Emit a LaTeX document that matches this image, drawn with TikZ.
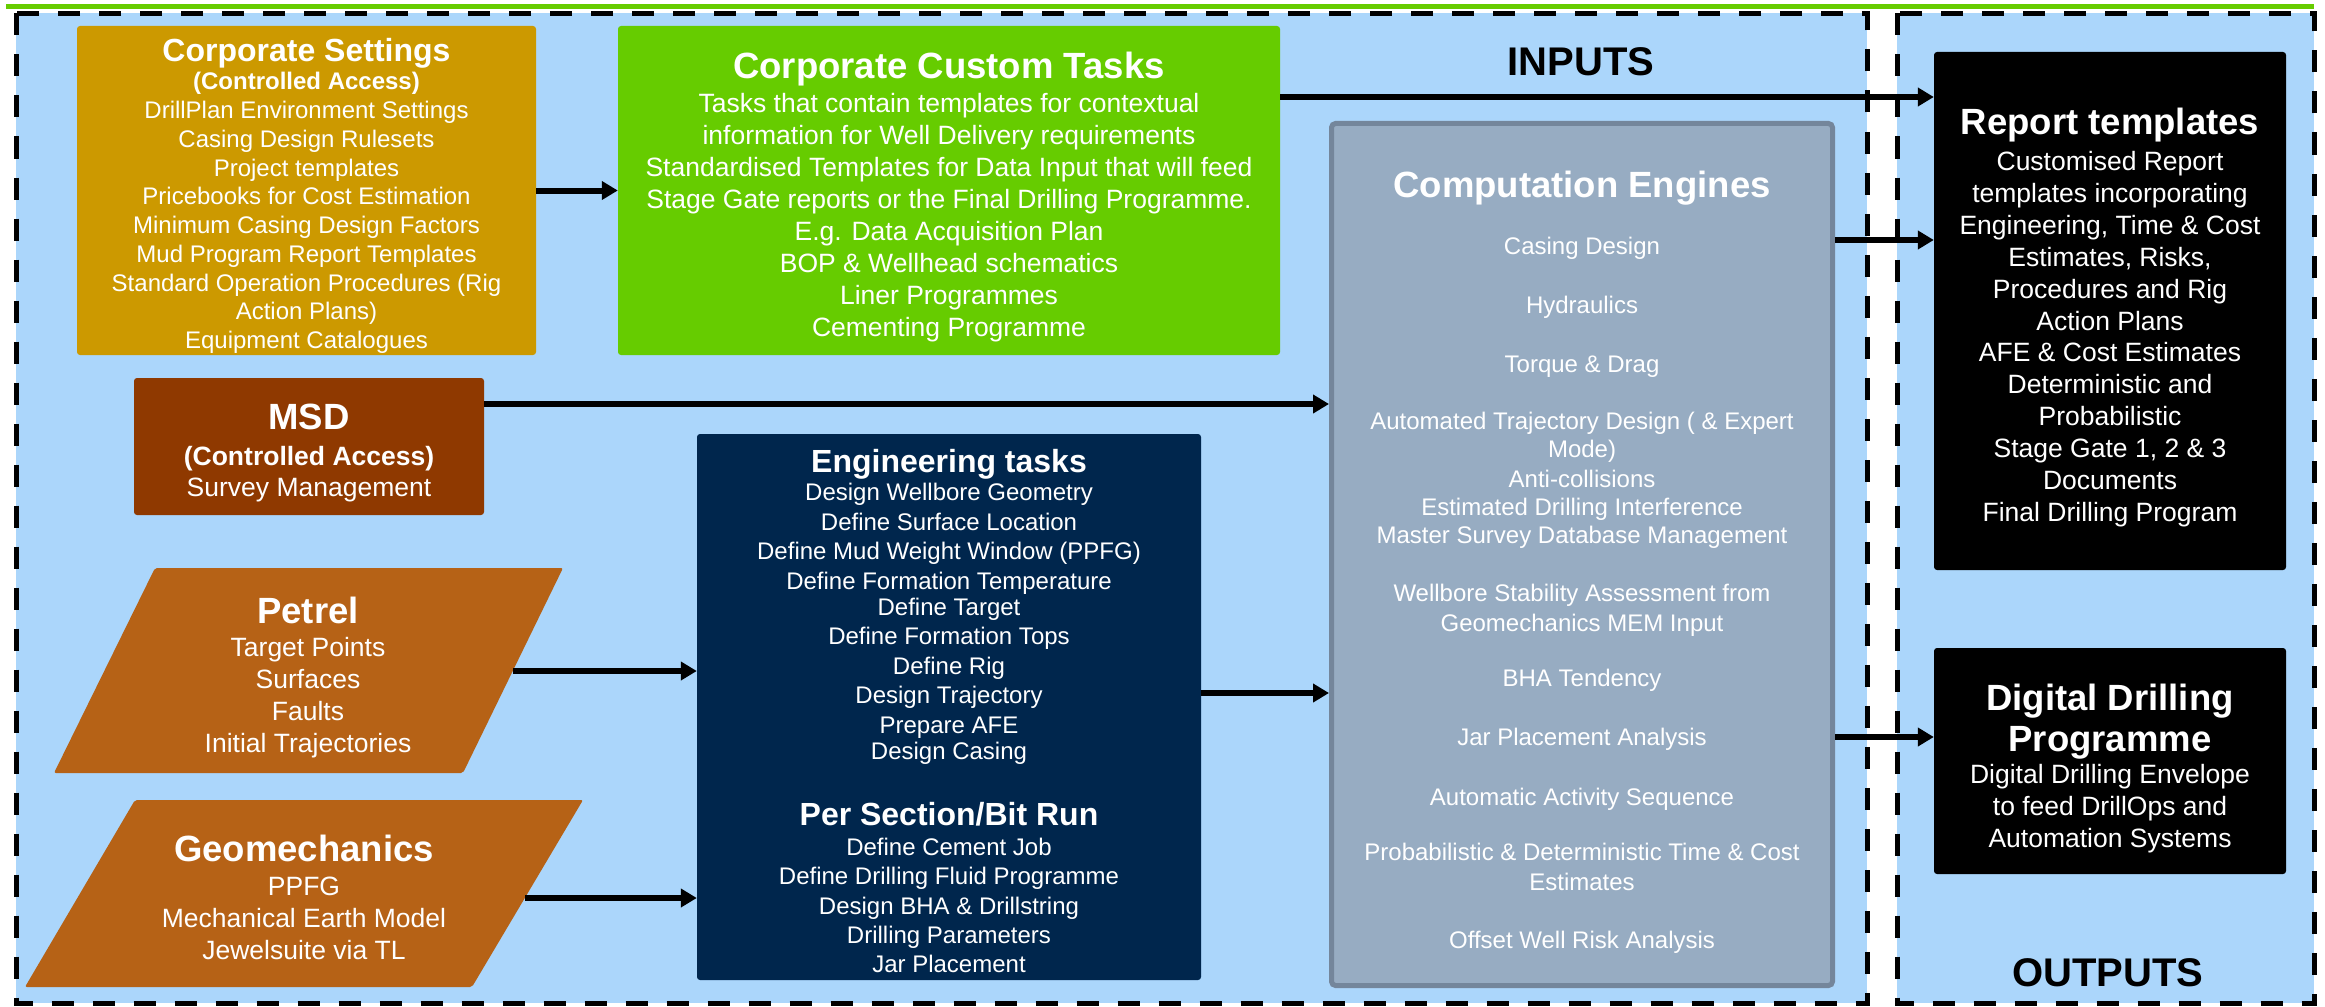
\documentclass[tikz,border=0pt]{standalone}
\usepackage{fontspec}
\setmainfont{Liberation Sans}
\usetikzlibrary{arrows.meta}

\definecolor{regionblue}{HTML}{ABD6FB}
\definecolor{topgreen}{HTML}{66CC00}
\definecolor{gold}{HTML}{CC9900}
\definecolor{lime}{HTML}{66CC00}
\definecolor{rust}{HTML}{8F3900}
\definecolor{copper}{HTML}{B66216}
\definecolor{navy}{HTML}{00264D}
\definecolor{slatefill}{HTML}{97ACC2}
\definecolor{slateedge}{HTML}{74869B}

\tikzset{
  box/.style={rectangle, rounded corners=3pt, inner sep=0pt, draw=none},
  arr/.style={line width=6pt, -{Triangle[length=16pt,width=18pt]}},
  frame/.style={draw=black, line width=5pt, dash pattern=on 22pt off 19pt},
  tx/.style={inner sep=0pt, text=white, text depth=0pt},
  r24/.style={tx, font=\fontsize{24pt}{24pt}\selectfont, text height=17.2pt},
  r26/.style={tx, font=\fontsize{26.5pt}{26.5pt}\selectfont, text height=19pt},
  b24/.style={tx, font=\fontsize{24pt}{24pt}\selectfont\bfseries, text height=17.2pt},
  b26/.style={tx, font=\fontsize{26.5pt}{26.5pt}\selectfont\bfseries, text height=19pt},
  b32/.style={tx, font=\fontsize{32pt}{32pt}\selectfont\bfseries, text height=23pt},
  b36/.style={tx, font=\fontsize{36.5pt}{36.5pt}\selectfont\bfseries, text height=26.2pt},
  b40/.style={tx, text=black, font=\fontsize{40pt}{40pt}\selectfont\bfseries, text height=28.7pt}
}

\begin{document}
\begin{tikzpicture}[x=1pt, y=-1pt]
\useasboundingbox (0,0) rectangle (2325,1006);
\fill[white] (0,0) rectangle (2325,1006);

% top rule
\draw[topgreen, line width=5pt] (6,6.5) -- (2314,6.5);

% input and output regions
\fill[regionblue] (16,13.5) rectangle (1867,1003);
\fill[regionblue] (1897,13.5) rectangle (2314,1003);
\draw[frame] (16,13.5) rectangle (1867,1003);
\draw[frame] (1897,13.5) rectangle (2314,1003);

\node[b40] (inputs) at (1581,61) {INPUTS};
\node[b40] (outputs) at (2108,972) {OUTPUTS};

% ---------- Corporate Settings ----------
\node[box, fill=gold, minimum width=459pt, minimum height=329pt] (cs) at (306.5,190.5) {};
\node[b32] (cstitle) at (306.5,50) {Corporate Settings};
\node[b24] (cssub) at (306.5,81) {(Controlled Access)};
\foreach \t [count=\i from 0] in {DrillPlan Environment Settings, Casing Design Rulesets,
  Project templates, Pricebooks for Cost Estimation, Minimum Casing Design Factors,
  Mud Program Report Templates, Standard Operation Procedures (Rig, Action Plans),
  Equipment Catalogues}
  \node[r24] (cs-\i) at (306.5,110+28.75*\i) {\t};

% ---------- Corporate Custom Tasks ----------
\node[box, fill=lime, minimum width=662pt, minimum height=329pt] (cct) at (949,190.5) {};
\node[b36] (ccttitle) at (949,65) {Corporate Custom Tasks};
\foreach \t [count=\i from 0] in {Tasks that contain templates for contextual,
  information for Well Delivery requirements,
  Standardised Templates for Data Input that will feed,
  Stage Gate reports or the Final Drilling Programme.,
  E.g. Data Acquisition Plan, BOP \& Wellhead schematics,
  Liner Programmes, Cementing Programme}
  \node[r26] (cct-\i) at (949,103.5+31.93*\i) {\t};

% ---------- MSD ----------
\node[box, fill=rust, minimum width=350pt, minimum height=137pt] (msd) at (309,446.5) {};
\node[b36] (msdtitle) at (309,416) {MSD};
\node[b26] (msdsub) at (309,456) {(Controlled Access)};
\node[r26] (msdline) at (309,487) {Survey Management};

% ---------- Petrel ----------
\fill[copper, rounded corners=2pt] (155,568) -- (563,568) -- (463,773) -- (54,773) -- cycle;
\coordinate (petrelR) at (513,671);
\node[b36] (petreltitle) at (308,610) {Petrel};
\foreach \t [count=\i from 0] in {Target Points, Surfaces, Faults, Initial Trajectories}
  \node[r26] (petrel-\i) at (308,647+32*\i) {\t};

% ---------- Geomechanics ----------
\fill[copper, rounded corners=2pt] (135,800) -- (583,800) -- (472,987) -- (25,987) -- cycle;
\coordinate (geoR) at (525,898);
\node[b36] (geotitle) at (304,848) {Geomechanics};
\foreach \t [count=\i from 0] in {PPFG, Mechanical Earth Model, Jewelsuite via TL}
  \node[r26] (geo-\i) at (304,886+32*\i) {\t};

% ---------- Engineering tasks ----------
\node[box, fill=navy, minimum width=504pt, minimum height=546pt] (eng) at (949,707) {};
\node[b32] (engtitle) at (949,461) {Engineering tasks};
\foreach \y/\t [count=\i] in {492/Design Wellbore Geometry, 522/Define Surface Location,
  551/Define Mud Weight Window (PPFG), 581/Define Formation Temperature,
  607/Define Target, 636/Define Formation Tops, 666/Define Rig,
  695/Design Trajectory, 725/Prepare AFE, 751/Design Casing}
  \node[r24] (eng-\i) at (949,\y) {\t};
\node[b32] (sectitle) at (949,814) {Per Section/Bit Run};
\foreach \t [count=\i from 0] in {Define Cement Job, Define Drilling Fluid Programme,
  Design BHA \& Drillstring, Drilling Parameters, Jar Placement}
  \node[r24] (sec-\i) at (949,847+29.25*\i) {\t};

% ---------- Computation Engines ----------
\node[box, fill=slatefill, draw=slateedge, line width=5pt, rounded corners=4pt,
      minimum width=501pt, minimum height=862pt] (comp) at (1582,554.5) {};
\node[b36] (comptitle) at (1582,184) {Computation Engines};
\foreach \y/\t [count=\i] in {246/Casing Design, 305/Hydraulics, 364/Torque \& Drag,
  421/Automated Trajectory Design ( \& Expert, 449/Mode), 479/Anti-collisions,
  507/Estimated Drilling Interference, 535/Master Survey Database Management,
  593/Wellbore Stability Assessment from, 623/Geomechanics MEM Input,
  678/BHA Tendency, 737/Jar Placement Analysis, 797/Automatic Activity Sequence,
  852/Probabilistic \& Deterministic Time \& Cost, 882/Estimates,
  940/Offset Well Risk Analysis}
  \node[r24] (comp-\i) at (1582,\y) {\t};

% ---------- Report templates ----------
\node[box, fill=black, minimum width=352pt, minimum height=518pt] (rep) at (2110,311) {};
\node[b36] (reptitle) at (2110,121) {Report templates};
\foreach \t [count=\i from 0] in {Customised Report, templates incorporating,
  {Engineering, Time \& Cost}, {Estimates, Risks,}, Procedures and Rig, Action Plans,
  AFE \& Cost Estimates, Deterministic and, Probabilistic, {Stage Gate 1, 2 \& 3},
  Documents, Final Drilling Program}
  \node[r26] (rep-\i) at (2110,161+31.9*\i) {\t};

% ---------- Digital Drilling Programme ----------
\node[box, fill=black, minimum width=352pt, minimum height=226pt] (dd) at (2110,761) {};
\node[b36] (ddtitle1) at (2110,697) {Digital Drilling};
\node[b36] (ddtitle2) at (2110,738) {Programme};
\foreach \t [count=\i from 0] in {Digital Drilling Envelope, to feed DrillOps and,
  Automation Systems}
  \node[r26] (dd-\i) at (2110,774+32*\i) {\t};

% ---------- connectors ----------
\draw[arr] (cs) -- (cct);
\draw[arr] (cct.east |- 0,97) -- (rep.west |- 0,97);
\draw[arr] (msd.east |- 0,404) -- (comp.west |- 0,404);
\draw[arr] (petrelR) -- (eng.west |- petrelR);
\draw[arr] (geoR) -- (eng.west |- geoR);
\draw[arr] (eng.east |- 0,693) -- (comp.west |- 0,693);
\draw[arr] (comp.east |- 0,240) -- (rep.west |- 0,240);
\draw[arr] (comp.east |- 0,737) -- (dd.west |- 0,737);
\end{tikzpicture}
\end{document}
